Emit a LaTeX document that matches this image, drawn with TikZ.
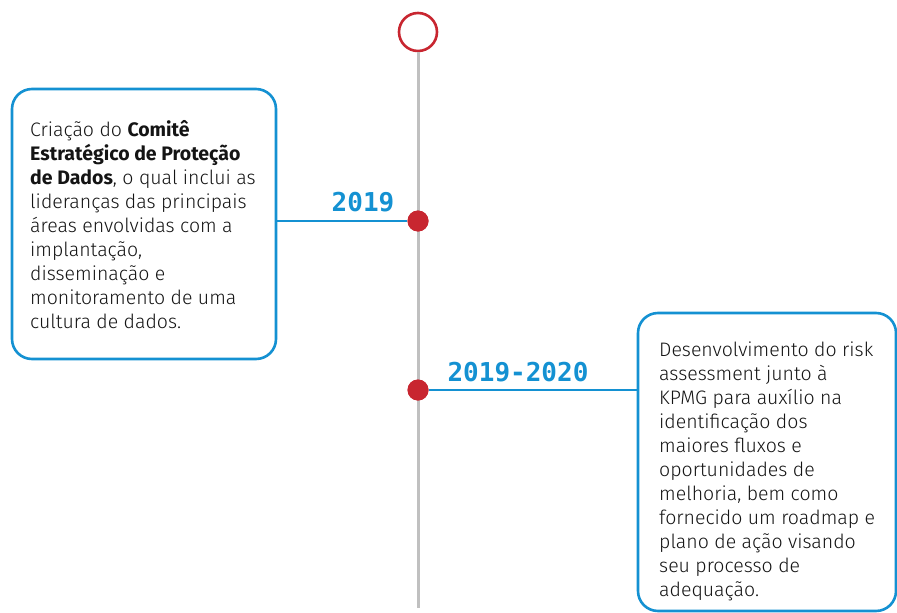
\documentclass[tikz,border=0pt]{standalone}
\usepackage{fontspec}
\setmainfont{Fira Sans}[UprightFont=* Light, BoldFont=* Bold]
\newfontfamily\yearfont{DejaVu Sans Mono}
\definecolor{tlblue}{RGB}{20,145,210}
\definecolor{tlred}{RGB}{200,38,48}
\definecolor{tlgray}{RGB}{192,192,192}
\tikzset{
  card/.style={draw=tlblue, line width=2.6pt, rounded corners=20pt, fill=white},
  cardtext/.style={anchor=base west, inner sep=0pt, align=left, font=\fontsize{19.5}{24}\selectfont, text=black!92},
  yearlabel/.style={anchor=base, inner sep=0pt, text=tlblue, font=\yearfont\bfseries\fontsize{26}{26}\selectfont},
  link/.style={draw=tlblue, line width=2.2pt},
  spine/.style={draw=tlgray, line width=3pt},
  dot/.style={circle, fill=tlred, minimum size=21pt, inner sep=0pt},
  startring/.style={circle, draw=tlred, line width=2.6pt, fill=white, minimum size=38pt, inner sep=0pt}
}
\begin{document}
\begin{tikzpicture}[x=1pt,y=-1pt]
\useasboundingbox (0,0) rectangle (897,613);
\coordinate (spineend) at (418,608);
\node[startring] (start) at (418,32) {};
\draw[spine] (start.south) -- (spineend);
\draw[card] (12,89) rectangle (276,359);
\coordinate (c1r) at (276,221);
\draw[card] (638,313) rectangle (896,611);
\coordinate (c2l) at (638,390);
\node[dot] (d1) at (418,221) {};
\node[dot] (d2) at (418,390) {};
\draw[link] (c1r) -- (d1);
\draw[link] (d2) -- (c2l);
\node[dot] at (418,221) {};
\node[dot] at (418,390) {};
\node[yearlabel] (y1) at (363,211) {2019};
\node[yearlabel] (y2) at (518,381) {2019-2020};
\node[cardtext] (t1) at (30,328) {Criação do \textbf{Comitê}\\\textbf{Estratégico de Proteção}\\\textbf{de Dados}, o qual inclui as\\lideranças das principais\\áreas envolvidas com a\\implantação,\\disseminação e\\monitoramento de uma\\cultura de dados.};
\node[cardtext] (t2) at (659,596) {Desenvolvimento do risk\\assessment junto à\\KPMG para auxílio na\\identificação dos\\maiores fluxos e\\oportunidades de\\melhoria, bem como\\fornecido um roadmap e\\plano de ação visando\\seu processo de\\adequação.};
\end{tikzpicture}
\end{document}
